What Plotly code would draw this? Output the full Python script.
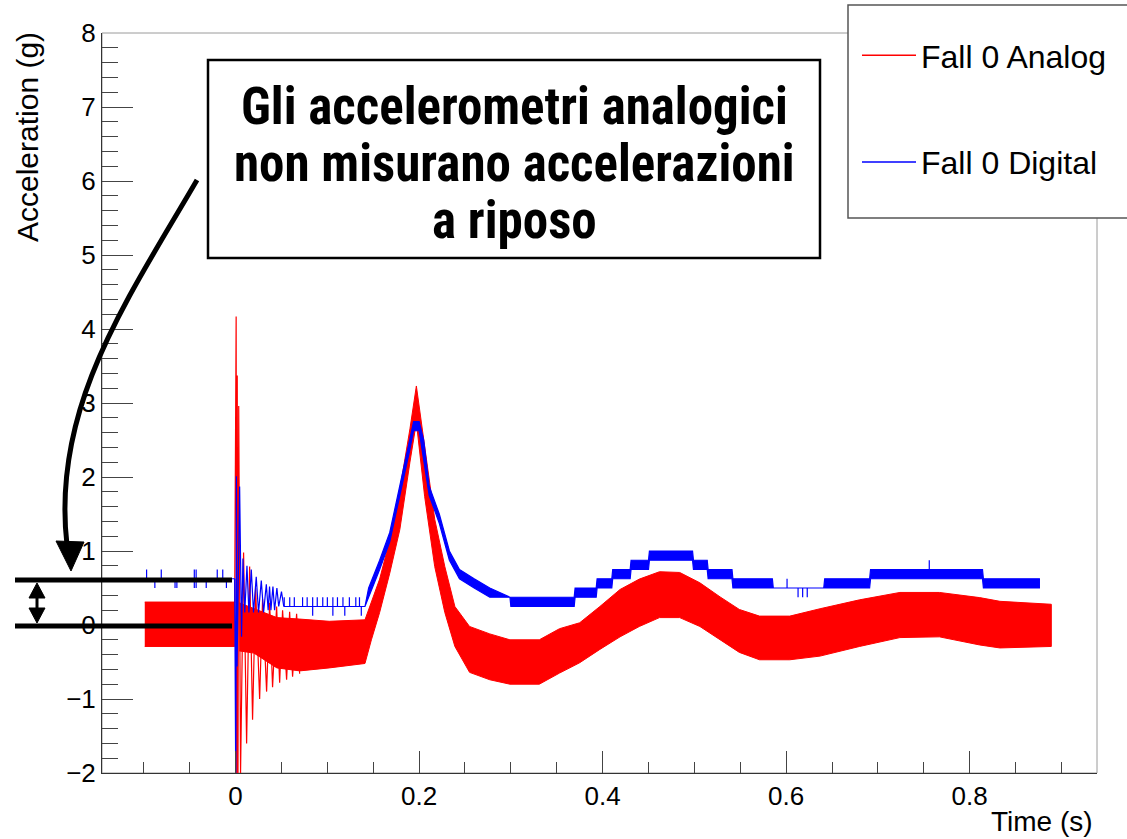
import plotly.graph_objects as go

# ---------------- data ----------------
# Analog accelerometer (red): envelope of the dense oscillating signal, in g
RED_PRE_T = [-0.099, -0.075, -0.050, -0.025, -0.001]
RED_PRE_LO = [-0.29, -0.29, -0.29, -0.29, -0.29]
RED_PRE_HI = [0.31, 0.31, 0.32, 0.31, 0.31]

RED_T = [0.004, 0.020, 0.045, 0.070, 0.102, 0.141, 0.148, 0.157, 0.168, 0.179,
         0.190, 0.197, 0.206, 0.217, 0.228, 0.239, 0.255, 0.277, 0.299, 0.331,
         0.353, 0.375, 0.397, 0.419, 0.440, 0.462, 0.484, 0.506, 0.528, 0.549,
         0.571, 0.604, 0.637, 0.680, 0.724, 0.767, 0.811, 0.833, 0.889]
RED_LO = [-0.35, -0.38, -0.58, -0.62, -0.58, -0.52, -0.20, 0.17, 0.70, 1.29,
          2.20, 2.74, 1.74, 0.79, 0.17, -0.29, -0.64, -0.74, -0.80, -0.80,
          -0.65, -0.51, -0.33, -0.16, -0.02, 0.10, 0.10, -0.02, -0.20, -0.37,
          -0.47, -0.47, -0.42, -0.29, -0.17, -0.16, -0.27, -0.31, -0.29]
RED_HI = [0.30, 0.22, 0.10, 0.08, 0.05, 0.07, 0.30, 0.62, 1.15, 1.83,
          2.65, 3.23, 2.42, 1.43, 0.79, 0.25, -0.02, -0.12, -0.20, -0.20,
          -0.05, 0.03, 0.25, 0.48, 0.62, 0.72, 0.71, 0.57, 0.38, 0.21,
          0.12, 0.12, 0.22, 0.34, 0.44, 0.44, 0.37, 0.32, 0.28]

# red impact transient (successive extremes)
RED_TR_T = [-0.001, 0.0006, 0.0012, 0.0018, 0.0026, 0.0034, 0.0054, 0.0087, 0.0120,
            0.0153, 0.0185, 0.0218, 0.0262, 0.0294, 0.0338, 0.0371, 0.0403, 0.0447,
            0.0480, 0.0512, 0.0556, 0.0589, 0.0621, 0.0665, 0.0698]
RED_TR_V = [0.3, 4.17, -2.2, 3.37, -2.2, 2.96, -2.0, 0.98, -1.6,
            0.79, -1.28, 0.5, -1.0, 0.35, -0.9, 0.3, -0.84, 0.25,
            -0.78, 0.2, -0.74, 0.18, -0.7, 0.15, -0.66]

# Digital accelerometer (blue): quantised signal
BLUE_PRE_T = [-0.099, -0.001]
BLUE_PRE_V = [0.625, 0.625]

BLUE_TR_T = [-0.001, 0.0002, 0.0009, 0.0016, 0.0044, 0.0065, 0.0080, 0.0100, 0.0124,
             0.0145, 0.0171, 0.0195, 0.0225, 0.0250, 0.0280, 0.0305, 0.0335, 0.0355,
             0.0370, 0.0385, 0.0407, 0.0425, 0.0450, 0.0470, 0.0500, 0.0525]
BLUE_TR_V = [0.625, -2.2, 2.01, -0.56, 1.87, -0.16, 0.9, 0.17, 0.8,
             0.17, 0.75, 0.17, 0.65, 0.17, 0.6, 0.17, 0.55, 0.2,
             0.52, 0.2, 0.52, 0.2, 0.5, 0.25, 0.45, 0.25]

BLUE_T = [0.0525, 0.141, 0.145, 0.157, 0.168, 0.179, 0.190, 0.194, 0.200, 0.205,
          0.211, 0.222, 0.233, 0.244, 0.260, 0.277, 0.299, 0.300, 0.369, 0.370,
          0.393, 0.394, 0.410, 0.411, 0.430, 0.431, 0.450, 0.451, 0.498, 0.499,
          0.514, 0.515, 0.541, 0.542, 0.585, 0.586, 0.641, 0.642, 0.691, 0.692,
          0.814, 0.815, 0.876]
BLUE_LO = [0.25, 0.25, 0.375, 0.75, 1.125, 1.75, 2.375, 2.625, 2.625, 2.25,
           1.75, 1.375, 0.875, 0.625, 0.5, 0.375, 0.375, 0.25, 0.25, 0.375,
           0.375, 0.5, 0.5, 0.625, 0.625, 0.75, 0.75, 0.875, 0.875, 0.75,
           0.75, 0.625, 0.625, 0.5, 0.5, 0.5, 0.5, 0.5, 0.5, 0.625,
           0.625, 0.5, 0.5]
BLUE_HI = [0.25, 0.25, 0.5, 0.875, 1.25, 1.875, 2.5, 2.75, 2.75, 2.5,
           1.875, 1.5, 1.0, 0.75, 0.625, 0.5, 0.375, 0.375, 0.375, 0.5,
           0.5, 0.625, 0.625, 0.75, 0.75, 0.875, 0.875, 1.0, 1.0, 0.875,
           0.875, 0.75, 0.75, 0.625, 0.625, 0.5, 0.5, 0.625, 0.625, 0.75,
           0.75, 0.625, 0.625]

# isolated one-sample jumps of the digital signal
BLUE_SPIKE_T = [-0.097, -0.088, -0.081, -0.066, -0.064, -0.045, -0.045, -0.043, -0.043,
                -0.032, -0.020, -0.014, -0.010,
                0.053, 0.059, 0.064, 0.073, 0.078, 0.084, 0.084, 0.089, 0.095, 0.100,
                0.106, 0.106, 0.111, 0.117, 0.119, 0.124, 0.131, 0.135, 0.137,
                0.601, 0.613, 0.618, 0.623, 0.756]
BLUE_SPIKE_FROM = [0.625, 0.625, 0.625, 0.625, 0.625, 0.625, 0.625, 0.625, 0.625,
                   0.625, 0.625, 0.625, 0.625,
                   0.25, 0.25, 0.25, 0.25, 0.25, 0.25, 0.25, 0.25, 0.25, 0.25,
                   0.25, 0.25, 0.25, 0.25, 0.25, 0.25, 0.25, 0.25, 0.25,
                   0.5, 0.5, 0.5, 0.5, 0.75]
BLUE_SPIKE_TO = [0.75, 0.5, 0.75, 0.5, 0.5, 0.75, 0.5, 0.75, 0.5,
                 0.5, 0.75, 0.75, 0.5,
                 0.375, 0.375, 0.375, 0.375, 0.375, 0.375, 0.125, 0.375, 0.375, 0.375,
                 0.375, 0.125, 0.375, 0.375, 0.125, 0.375, 0.375, 0.375, 0.125,
                 0.625, 0.375, 0.375, 0.375, 0.875]

X_TICKS = [0, 0.2, 0.4, 0.6, 0.8]
X_TICK_LABELS = ["0", "0.2", "0.4", "0.6", "0.8"]
Y_TICKS = [-2, -1, 0, 1, 2, 3, 4, 5, 6, 7, 8]

SERIES_NAMES = ["Fall 0 Analog", "Fall 0 Digital"]
RED = "#ff0000"
BLUE = "#0000ff"

# ---------------- layout helpers (pixel -> paper) ----------------
W, H = 1127, 839
L, R, T, B = 102, 1097, 33, 773


def px(x):
    return (x - L) / (R - L)


def py(y):
    return (B - y) / (B - T)


def band(t, lo, hi):
    return list(t) + list(t)[::-1], list(hi) + list(lo)[::-1]


fig = go.Figure()

# analog (red)
for tt, lo, hi in [(RED_PRE_T, RED_PRE_LO, RED_PRE_HI), (RED_T, RED_LO, RED_HI)]:
    bx, by = band(tt, lo, hi)
    fig.add_trace(go.Scatter(x=bx, y=by, mode="lines", fill="toself", fillcolor=RED,
                             line=dict(color=RED, width=1), showlegend=False,
                             hoverinfo="skip"))
fig.add_trace(go.Scatter(x=RED_TR_T, y=RED_TR_V, mode="lines",
                         line=dict(color=RED, width=1.2), showlegend=False,
                         hoverinfo="skip"))

# digital (blue)
fig.add_trace(go.Scatter(x=BLUE_PRE_T, y=BLUE_PRE_V, mode="lines",
                         line=dict(color=BLUE, width=1.2), showlegend=False,
                         hoverinfo="skip"))
fig.add_trace(go.Scatter(x=BLUE_TR_T, y=BLUE_TR_V, mode="lines",
                         line=dict(color=BLUE, width=1.2), showlegend=False,
                         hoverinfo="skip"))
bx, by = band(BLUE_T, BLUE_LO, BLUE_HI)
fig.add_trace(go.Scatter(x=bx, y=by, mode="lines", fill="toself", fillcolor=BLUE,
                         line=dict(color=BLUE, width=1.2), showlegend=False,
                         hoverinfo="skip"))
sx, sy = [], []
for t, a, b in zip(BLUE_SPIKE_T, BLUE_SPIKE_FROM, BLUE_SPIKE_TO):
    sx += [t, t, None]
    sy += [a, b, None]
fig.add_trace(go.Scatter(x=sx, y=sy, mode="lines", line=dict(color=BLUE, width=1.2),
                         showlegend=False, hoverinfo="skip"))

# legend entries
for name, col, grp in [(SERIES_NAMES[0], RED, "a"), (SERIES_NAMES[1], BLUE, "b")]:
    fig.add_trace(go.Scatter(x=[None], y=[None], mode="lines", name=name,
                             legendgroup=grp, line=dict(color=col, width=1.5)))

shapes = []
# plot frame (top / right light lines)
shapes.append(dict(type="rect", xref="paper", yref="paper", x0=0, y0=0, x1=1, y1=1,
                   line=dict(color="#9a9a9a", width=1), layer="below"))
# legend box
shapes.append(dict(type="rect", xref="paper", yref="paper", x0=px(848), y0=py(218),
                   x1=px(1140), y1=py(5), line=dict(color="#555555", width=1.5),
                   fillcolor="white", layer="above"))
# text box
shapes.append(dict(type="rect", xref="paper", yref="paper", x0=px(208), y0=py(258),
                   x1=px(820), y1=py(60), line=dict(color="black", width=2.5),
                   fillcolor="white", layer="above"))
# curved arrow
p0, c1, c2, p3 = (197, 180), (127, 300), (51, 408), (67, 545)
path = "M {},{} C {},{} {},{} {},{}".format(px(p0[0]), py(p0[1]), px(c1[0]), py(c1[1]),
                                            px(c2[0]), py(c2[1]), px(p3[0]), py(p3[1]))
shapes.append(dict(type="path", xref="paper", yref="paper", path=path,
                   line=dict(color="black", width=5), layer="above"))
head = "M {},{} L {},{} L {},{} Z".format(px(56), py(541), px(71), py(571), px(84), py(542))
shapes.append(dict(type="path", xref="paper", yref="paper", path=head,
                   line=dict(color="black", width=1), fillcolor="black", layer="above"))
# two horizontal reference bars
for yy in (580, 626):
    shapes.append(dict(type="line", xref="paper", yref="paper", x0=px(15), x1=px(232),
                       y0=py(yy), y1=py(yy), line=dict(color="black", width=5),
                       layer="above"))
# double arrow
shapes.append(dict(type="line", xref="paper", yref="paper", x0=px(37), x1=px(37),
                   y0=py(592), y1=py(614), line=dict(color="black", width=3), layer="above"))
for tip, base in ((583, 598), (623, 608)):
    p = "M {},{} L {},{} L {},{} Z".format(px(37), py(tip), px(29), py(base), px(45), py(base))
    shapes.append(dict(type="path", xref="paper", yref="paper", path=p,
                       line=dict(color="black", width=1), fillcolor="black", layer="above"))

BOX_FONT = dict(family="Liberation Sans Narrow, Roboto Condensed, DejaVu Sans Condensed, Liberation Sans",
                size=51, color="black", weight="bold")
annotations = []
for text, yc in (("Gli accelerometri analogici", 106),
                 ("non misurano accelerazioni", 164),
                 ("a riposo", 221)):
    annotations.append(dict(text=text, xref="paper", yref="paper", x=px(514), y=py(yc),
                            xanchor="center", yanchor="middle", showarrow=False,
                            font=BOX_FONT))
annotations.append(dict(text="Acceleration (g)", xref="paper", yref="paper",
                        x=px(28), y=py(30), xanchor="center", yanchor="top",
                        textangle=-90, showarrow=False,
                        font=dict(family="Liberation Sans, Arial", size=30, color="black")))
annotations.append(dict(text="Time (s)", xref="paper", yref="paper",
                        x=px(1095), y=py(821), xanchor="right", yanchor="middle",
                        showarrow=False,
                        font=dict(family="Liberation Sans, Arial", size=28, color="black")))

fig.update_layout(
    width=W, height=H,
    margin=dict(l=L, r=W - R, t=T, b=H - B, pad=0),
    paper_bgcolor="white", plot_bgcolor="white",
    font=dict(family="Liberation Sans, Arial", size=26, color="black"),
    shapes=shapes, annotations=annotations,
    legend=dict(x=px(857), y=py(28), xanchor="left", yanchor="top",
                bgcolor="rgba(0,0,0,0)", borderwidth=0,
                font=dict(family="Liberation Sans, Arial", size=32, color="black"),
                traceorder="grouped", tracegroupgap=62, itemwidth=54),
    showlegend=True,
)
fig.update_xaxes(range=[-0.1456, 0.9388], tickvals=X_TICKS, ticktext=X_TICK_LABELS,
                 ticks="inside", ticklen=22, tickcolor="#444", tickwidth=1,
                 showline=True, linecolor="#333", linewidth=1, showgrid=False,
                 zeroline=False, tickfont=dict(size=26),
                 minor=dict(dtick=0.05, tick0=0, ticks="inside", ticklen=11,
                            tickcolor="#444", showgrid=False))
fig.update_yaxes(range=[-2, 8], tickvals=Y_TICKS, ticks="inside", ticklen=31,
                 tickcolor="#444", tickwidth=1, showline=True, linecolor="#333",
                 linewidth=1, showgrid=False, zeroline=False, tickfont=dict(size=26),
                 minor=dict(dtick=0.2, tick0=0, ticks="inside", ticklen=16,
                            tickcolor="#444", showgrid=False))

fig.write_html("out.html")
